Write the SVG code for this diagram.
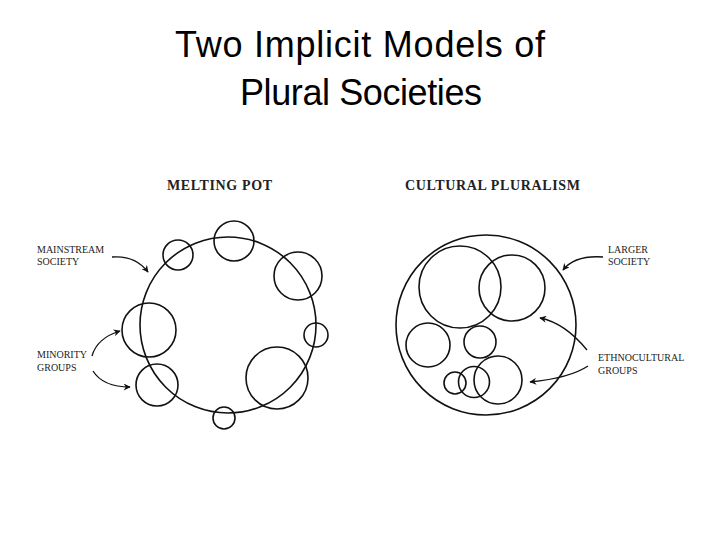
<svg xmlns="http://www.w3.org/2000/svg" width="720" height="540" viewBox="0 0 720 540">
<defs>
<style>
.t{font-family:"Liberation Sans","Open Sans",sans-serif;font-size:36px;fill:#000;text-anchor:middle}
.h{font-family:"Liberation Serif",serif;font-size:14px;font-weight:bold;fill:#222}
.l{font-family:"Liberation Serif",serif;font-size:10px;fill:#222}
circle{fill:none;stroke:#111;stroke-width:1.6}
.c path{fill:none;stroke:#111;stroke-width:1.3;marker-end:url(#a)}
</style>
<marker id="a" viewBox="0 0 10 10" refX="9" refY="5" markerWidth="9" markerHeight="7" orient="auto" markerUnits="userSpaceOnUse"><path d="M0,0L10,5L0,10L3,5z" fill="#111"/></marker>
</defs>
<rect width="720" height="540" fill="#fff"/>
<text class="t" x="360" y="57" textLength="370">Two Implicit Models of</text>
<text class="t" x="361" y="105" textLength="242">Plural Societies</text>
<g id="melting-pot">
<text class="h" x="167" y="190" textLength="105">MELTING POT</text>
<circle id="mainstream" cx="228" cy="325" r="88"/>
<circle cx="178" cy="255" r="15"/>
<circle cx="234" cy="241" r="20"/>
<circle cx="298" cy="276" r="24"/>
<circle cx="316" cy="335" r="12"/>
<circle cx="149" cy="330" r="27"/>
<circle cx="157" cy="385" r="21"/>
<circle cx="277" cy="378" r="31"/>
<circle cx="224" cy="418" r="11"/>
<text class="l" x="37" y="253">MAINSTREAM</text>
<text class="l" x="37" y="265">SOCIETY</text>
<text class="l" x="37" y="358">MINORITY</text>
<text class="l" x="37" y="371">GROUPS</text>
</g>
<g id="cultural-pluralism">
<text class="h" x="405" y="190" textLength="175">CULTURAL PLURALISM</text>
<circle cx="486" cy="325" r="90"/>
<circle cx="460" cy="287" r="41"/>
<circle cx="512" cy="288" r="33"/>
<circle cx="428" cy="345" r="22"/>
<circle cx="480" cy="342" r="16"/>
<circle cx="498" cy="380" r="24"/>
<circle cx="474" cy="382" r="15.5"/>
<circle cx="455" cy="383" r="11"/>
<text class="l" x="608" y="253">LARGER</text>
<text class="l" x="608" y="265">SOCIETY</text>
<text class="l" x="598" y="361">ETHNOCULTURAL</text>
<text class="l" x="598" y="374">GROUPS</text>
</g>
<g id="connectors" class="c">
<path d="M112,257 Q135,255 148,272"/>
<path d="M92,356 Q97,338 120,331"/>
<path d="M93,371 Q103,387 130,387"/>
<path d="M603,257 Q575,255 563,270"/>
<path d="M587,350 Q565,323 540,318"/>
<path d="M588,366 Q570,378 530,382"/>
</g>
</svg>
